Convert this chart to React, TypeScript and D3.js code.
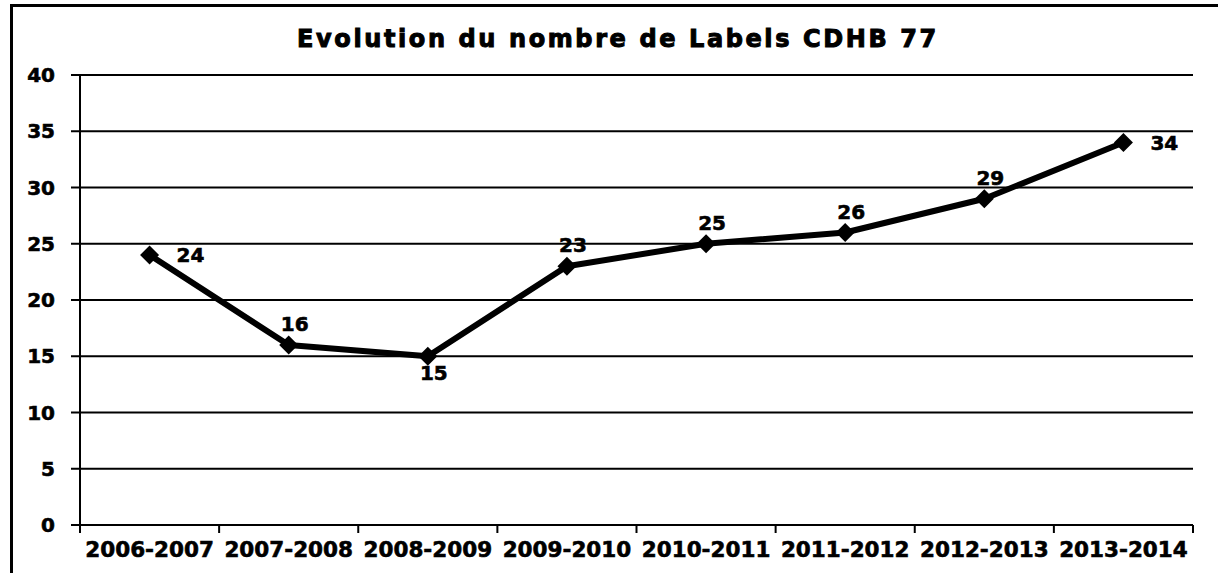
import { useEffect, useRef } from "react";
import * as d3 from "d3";

const seasons = [
  "2006-2007",
  "2007-2008",
  "2008-2009",
  "2009-2010",
  "2010-2011",
  "2011-2012",
  "2012-2013",
  "2013-2014",
];
const labelCounts = [24, 16, 15, 23, 25, 26, 29, 34];
const labelSides = ["right", "above", "below", "above", "above", "above", "above", "right"];
const yTicks = [0, 5, 10, 15, 20, 25, 30, 35, 40];

const FONT = "'DejaVu Sans', Verdana, sans-serif";

export default function App() {
  const ref = useRef<SVGSVGElement | null>(null);

  useEffect(() => {
    if (!ref.current) return;
    const width = 1218;
    const height = 573;
    const margin = { top: 75, right: 25, bottom: 48, left: 80 };

    const svg = d3.select(ref.current);
    svg.selectAll("*").remove();
    svg.attr("width", width).attr("height", height);

    svg.append("rect").attr("width", width).attr("height", height).attr("fill", "#fff");

    // outer frame (only left and top edges visible)
    svg
      .append("rect")
      .attr("x", 11.5)
      .attr("y", 5.5)
      .attr("width", width + 50)
      .attr("height", height + 50)
      .attr("fill", "none")
      .attr("stroke", "#000")
      .attr("stroke-width", 3);

    svg
      .append("text")
      .attr("x", 618)
      .attr("y", 47)
      .attr("text-anchor", "middle")
      .attr("font-family", FONT)
      .attr("font-weight", "bold")
      .attr("font-size", 24)
      .attr("letter-spacing", 2.6)
      .attr("stroke", "#000")
      .attr("stroke-width", 1)
      .text("Evolution du nombre de Labels CDHB 77");

    const x = d3
      .scaleBand()
      .domain(seasons)
      .range([margin.left, width - margin.right]);

    const y = d3
      .scaleLinear()
      .domain([0, 40])
      .range([height - margin.bottom, margin.top]);

    const x0 = margin.left;
    const x1 = width - margin.right;
    const y0 = y(0);

    // gridlines + left ticks
    const grid = svg.append("g");
    yTicks.forEach((t) => {
      grid
        .append("line")
        .attr("x1", x0 - 9)
        .attr("x2", x1)
        .attr("y1", y(t))
        .attr("y2", y(t))
        .attr("stroke", "#000")
        .attr("stroke-width", 2);
      grid
        .append("text")
        .attr("x", 55)
        .attr("y", y(t))
        .attr("dy", "0.36em")
        .attr("text-anchor", "end")
        .attr("font-family", FONT)
        .attr("font-weight", "bold")
        .attr("font-size", 20)
        .attr("stroke", "#000")
        .attr("stroke-width", 0.6)
        .text(t);
    });

    // y axis line
    svg
      .append("line")
      .attr("x1", x0)
      .attr("x2", x0)
      .attr("y1", y(40))
      .attr("y2", y0 + 8)
      .attr("stroke", "#000")
      .attr("stroke-width", 2);

    // category ticks at band boundaries
    const bounds = seasons.map((s) => x(s) as number).concat([x1]);
    bounds.slice(1).forEach((b) => {
      svg
        .append("line")
        .attr("x1", b)
        .attr("x2", b)
        .attr("y1", y0)
        .attr("y2", y0 + 8)
        .attr("stroke", "#000")
        .attr("stroke-width", 2);
    });

    seasons.forEach((s) => {
      svg
        .append("text")
        .attr("x", (x(s) as number) + x.bandwidth() / 2)
        .attr("y", 557)
        .attr("text-anchor", "middle")
        .attr("font-family", FONT)
        .attr("font-weight", "bold")
        .attr("font-size", 21.5)
        .attr("stroke", "#000")
        .attr("stroke-width", 0.6)
        .text(s);
    });

    const cx = (i: number) => (x(seasons[i]) as number) + x.bandwidth() / 2;

    const line = d3
      .line<number>()
      .x((_, i) => cx(i))
      .y((d) => y(d));

    svg
      .append("path")
      .datum(labelCounts)
      .attr("fill", "none")
      .attr("stroke", "#000")
      .attr("stroke-width", 6)
      .attr("stroke-linejoin", "round")
      .attr("d", line);

    const diamond = d3.symbol().type(d3.symbolDiamond2).size(230);
    svg
      .append("g")
      .selectAll("path")
      .data(labelCounts)
      .join("path")
      .attr("transform", (d, i) => `translate(${cx(i)},${y(d)})`)
      .attr("d", diamond)
      .attr("fill", "#000");

    svg
      .append("g")
      .selectAll("text")
      .data(labelCounts)
      .join("text")
      .attr("font-family", FONT)
      .attr("font-weight", "bold")
      .attr("font-size", 20)
      .attr("stroke", "#000")
      .attr("stroke-width", 0.6)
      .attr("text-anchor", (_, i) => (labelSides[i] === "right" ? "start" : "middle"))
      .attr("x", (_, i) => (labelSides[i] === "right" ? cx(i) + 27 : cx(i) + 6))
      .attr("y", (d, i) => {
        if (labelSides[i] === "right") return y(d) + 7;
        if (labelSides[i] === "below") return y(d) + 24;
        return y(d) - 14;
      })
      .text((d) => d);
  }, []);

  return <svg ref={ref} style={{ position: "absolute", left: 0, top: 0 }} />;
}
